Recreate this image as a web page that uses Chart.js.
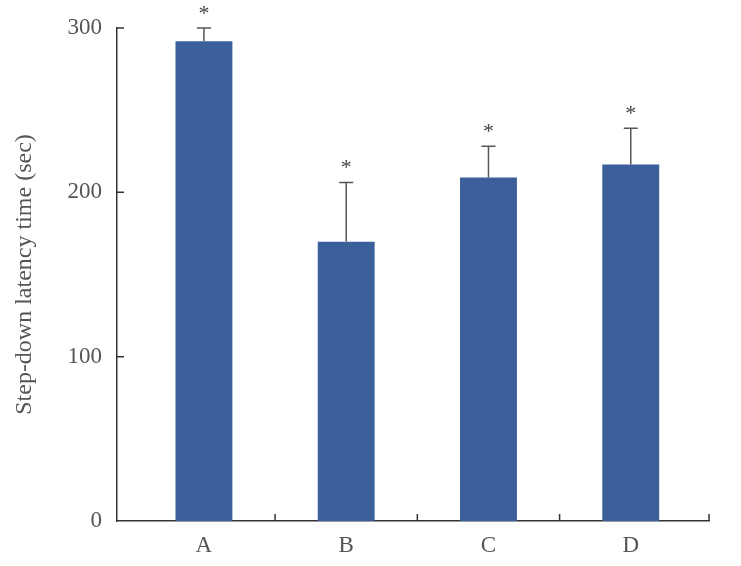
<!DOCTYPE html>
<html>
<head>
<meta charset="utf-8">
<script src="https://cdn.jsdelivr.net/npm/chart.js@4/dist/chart.umd.min.js"></script>
<style>
	html, body { margin: 0; padding: 0; background: #fff; }
	#wrap { width: 741px; height: 566px; }
</style>
</head>
<body>
<div id="wrap"><canvas id="barChart"></canvas></div>
<script>
const groups = ["A", "B", "C", "D"];
const latency = [292, 170, 209, 217];
const latencySd = [8, 36, 19, 22];
const marks = ["*", "*", "*", "*"];
const yTicks = [0, 100, 200, 300];
const xBounds = [0.5, 1.5, 2.5, 3.55];

const textColor = "#555555";
const axisColor = "#333333";
const serif = "'Liberation Serif', 'DejaVu Serif', serif";

// error bars (upper half only) and significance marks
const errorBars = {
	id: "errorBars",
	afterDatasetsDraw(chart) {
		const ctx = chart.ctx;
		const xs = chart.scales.x;
		const ys = chart.scales.y;
		ctx.save();
		ctx.strokeStyle = "#555555";
		ctx.lineWidth = 1.5;
		latency.forEach((v, i) => {
			const x = xs.getPixelForValue(i);
			const top = ys.getPixelForValue(v + latencySd[i]);
			const base = ys.getPixelForValue(v);
			ctx.beginPath();
			ctx.moveTo(x, base);
			ctx.lineTo(x, top);
			ctx.moveTo(x - 7, top);
			ctx.lineTo(x + 7, top);
			ctx.stroke();
			ctx.fillStyle = "#444444";
			ctx.font = "22px " + serif;
			ctx.textAlign = "center";
			ctx.textBaseline = "middle";
			ctx.fillText(marks[i], x, top - 14);
		});
		ctx.restore();
	},
};

// inward tick marks on both axes
const innerTicks = {
	id: "innerTicks",
	afterDraw(chart) {
		const ctx = chart.ctx;
		const xs = chart.scales.x;
		const ys = chart.scales.y;
		const area = chart.chartArea;
		ctx.save();
		ctx.strokeStyle = axisColor;
		ctx.lineWidth = 1.5;
		ctx.beginPath();
		xBounds.forEach((b) => {
			const x = xs.getPixelForValue(b);
			ctx.moveTo(x, area.bottom);
			ctx.lineTo(x, area.bottom - 7);
		});
		yTicks.slice(1).forEach((t) => {
			const y = ys.getPixelForValue(t);
			ctx.moveTo(area.left, y);
			ctx.lineTo(area.left + 7, y);
		});
		ctx.stroke();
		ctx.restore();
	},
};

const ctx = document.getElementById("barChart");
const chartData = {
	datasets: [
		{
			label: "Latency",
			data: latency.map((v, i) => ({ x: i, y: v })),
			backgroundColor: "#3b5f9b",
			borderWidth: 0,
			categoryPercentage: 1,
			barPercentage: 0.4,
		},
	],
};
const config = {
	type: "bar",
	data: chartData,
	options: {
		responsive: true,
		maintainAspectRatio: false,
		animation: false,
		layout: { padding: { left: 10, right: 32, top: 28, bottom: 4 } },
		plugins: {
			legend: { display: false },
			tooltip: { enabled: false },
		},
		scales: {
			x: {
				type: "linear",
				offset: false,
				min: -0.611,
				max: 3.55,
				grid: { display: false },
				border: { display: true, color: axisColor, width: 1.5 },
				afterBuildTicks: (s) => {
					s.ticks = groups.map((g, i) => ({ value: i }));
				},
				ticks: {
					color: textColor,
					font: { family: serif, size: 23 },
					padding: 3,
					autoSkip: false,
					maxRotation: 0,
					callback: (v) => groups[v],
				},
				afterFit: (s) => {
					s.height = 566 - 521 - 4;
				},
			},
			y: {
				min: 0,
				max: 300,
				grid: { display: false },
				border: { display: true, color: axisColor, width: 1.5 },
				afterBuildTicks: (s) => {
					s.ticks = yTicks.map((t) => ({ value: t }));
				},
				ticks: {
					color: textColor,
					font: { family: serif, size: 23 },
					padding: 7,
				},
				title: {
					display: true,
					text: "Step-down latency time (sec)",
					color: textColor,
					font: { family: serif, size: 24 },
					padding: { top: 0, bottom: 4 },
				},
				afterFit: (s) => {
					s.width = 117 - 10;
				},
			},
		},
	},
	plugins: [errorBars, innerTicks],
};
const barChart = new Chart(ctx, config);
</script>
</body>
</html>
